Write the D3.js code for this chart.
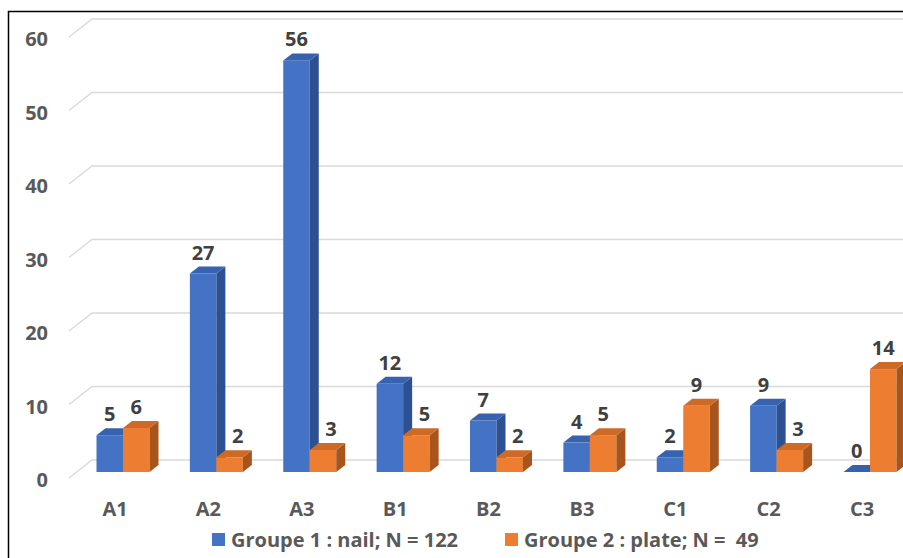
<!DOCTYPE html>
<html>
<head>
<meta charset="utf-8">
<script src="https://cdn.jsdelivr.net/npm/d3@7"></script>
<style>
  body { margin: 0; background: #fff; }
  text { font-family: "Open Sans", sans-serif; font-weight: bold; }
</style>
</head>
<body>
<svg width="903" height="558"></svg>
<script>
const categories = ['A1', 'A2', 'A3', 'B1', 'B2', 'B3', 'C1', 'C2', 'C3'];
const group1 = [5, 27, 56, 12, 7, 4, 2, 9, 0];
const group2 = [6, 2, 3, 5, 2, 5, 9, 3, 14];
const seriesNames = ['Groupe 1 : nail; N = 122', 'Groupe 2 : plate; N =  49'];
const yTicks = [0, 10, 20, 30, 40, 50, 60];

const svg = d3.select('svg');
const fontSize = 20;

// border (chart area is cropped on right / bottom)
svg.append('path')
  .attr('d', 'M8.5,558 L8.5,11.5 L903,11.5')
  .attr('fill', 'none')
  .attr('stroke', '#000')
  .attr('stroke-width', 1.5);

const y = d3.scaleLinear().domain([0, 60]).range([472, 31]);
const x0 = d3.scalePoint().domain(categories).range([123, 870]);
const x1 = d3.scaleBand().domain([0, 1]).range([-26.5, 26.5]);

const wallDx = 23, wallDy = -18;
const barDx = 9, barDy = -7;

// gridlines: slanted floor edge + back wall line
const grid = svg.append('g');
yTicks.forEach(v => {
  const yf = y(v) + 6;
  grid.append('path')
    .attr('d', `M69,${yf} L${69 + wallDx},${yf + wallDy} L903,${yf + wallDy}`)
    .attr('fill', 'none')
    .attr('stroke', '#d9d9d9')
    .attr('stroke-width', 1.3);
  grid.append('text')
    .attr('x', 48)
    .attr('y', yf + 2)
    .attr('dy', '0.35em')
    .attr('text-anchor', 'end')
    .attr('font-size', fontSize)
    .attr('fill', '#595959')
    .text(v);
});

const colors = [
  { front: '#4472c4', top: '#3762b0', side: '#2d5090' },
  { front: '#ed7d31', top: '#cc6a26', side: '#a7541d' }
];

const bars = svg.append('g');
categories.forEach((c, i) => {
  const pair = [group1[i], group2[i]];
  pair.forEach((v, s) => {
    const xl = x0(c) + x1(s);
    const xr = xl + x1.bandwidth();
    const yb = y(0);
    const yt = y(v);
    const col = colors[s];
    const g = bars.append('g');
    if (v > 0) {
      g.append('rect')
        .attr('x', xl).attr('y', yt)
        .attr('width', xr - xl).attr('height', yb - yt)
        .attr('fill', col.front);
      g.append('path')
        .attr('d', `M${xr},${yt} L${xr + barDx},${yt + barDy} L${xr + barDx},${yb + barDy} L${xr},${yb} Z`)
        .attr('fill', col.side);
    }
    g.append('path')
      .attr('d', `M${xl},${yt} L${xl + barDx},${yt + barDy} L${xr + barDx},${yt + barDy} L${xr},${yt} Z`)
      .attr('fill', col.top);
    // orange labels beside a taller blue bar get nudged right
    const shift = (s === 1 && pair[0] > v) ? 8 : 0;
    g.append('text')
      .attr('x', (xl + xr) / 2 + shift)
      .attr('y', yt - 14)
      .attr('text-anchor', 'middle')
      .attr('font-size', fontSize)
      .attr('fill', '#404040')
      .text(v);
  });
});

// category labels
categories.forEach(c => {
  svg.append('text')
    .attr('x', x0(c) - 8)
    .attr('y', 509)
    .attr('dy', '0.35em')
    .attr('text-anchor', 'middle')
    .attr('font-size', fontSize)
    .attr('fill', '#595959')
    .text(c);
});

// legend
const legend = svg.append('g');
const legX = [212, 505];
seriesNames.forEach((name, s) => {
  legend.append('rect')
    .attr('x', legX[s]).attr('y', 533)
    .attr('width', 13).attr('height', 13)
    .attr('fill', colors[s].front);
  legend.append('text')
    .attr('x', legX[s] + 19)
    .attr('y', 540)
    .attr('dy', '0.35em')
    .attr('font-size', fontSize)
    .attr('fill', '#595959')
    .style('white-space', 'pre')
    .text(name);
});
</script>
</body>
</html>
